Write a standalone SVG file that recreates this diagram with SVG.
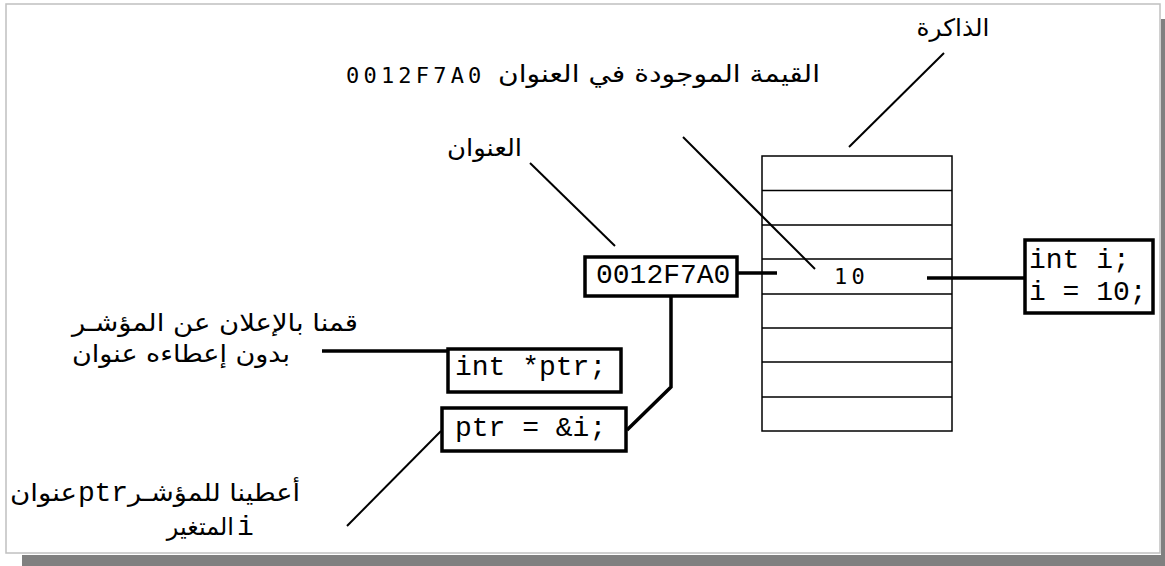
<svg xmlns="http://www.w3.org/2000/svg" width="1165" height="566" viewBox="0 0 1165 566">
<style>
.frame{fill:#ffffff;stroke:#c0c0c0;stroke-width:1.5}
.shadow{fill:#808080}
.mem{fill:none;stroke:#000;stroke-width:1.5}
.box{fill:#fff;stroke:#000;stroke-width:3.5}
.thick{fill:none;stroke:#000;stroke-width:3.5}
.thin{fill:none;stroke:#000;stroke-width:2}
.code{font-family:"Liberation Mono","Courier New",monospace;font-size:28px;fill:#000}
.num{font-family:"DejaVu Sans Mono","Liberation Mono",monospace;font-size:22px;fill:#000;letter-spacing:4.2px}
.ar{font-family:"DejaVu Sans","Noto Sans",sans-serif;font-size:24px;fill:#000;text-anchor:middle}
</style>
<rect class="shadow" x="1161" y="19" width="4" height="547"/>
<rect class="shadow" x="22" y="555" width="1143" height="11"/>
<rect class="frame" x="6" y="4" width="1154" height="549"/>

<g id="memory">
<rect class="mem" x="762" y="156" width="190" height="275"/>
<path class="mem" d="M762 190.5H952M762 225H952M762 259H952M762 294H952M762 328H952M762 362H952M762 397H952"/>
<text class="num" x="834" y="284">10</text>
</g>

<g id="label-memory"><text class="ar" x="953" y="36" textLength="73" lengthAdjust="spacingAndGlyphs">الذاكرة</text></g>
<g id="label-value">
<text class="ar" x="659" y="82" textLength="322" lengthAdjust="spacingAndGlyphs">القيمة الموجودة في العنوان</text>
<text class="num" x="346" y="83">0012F7A0</text>
</g>
<g id="label-address"><text class="ar" x="484.5" y="156" textLength="75" lengthAdjust="spacingAndGlyphs">العنوان</text></g>

<g id="addr-box">
<rect class="box" x="585" y="257" width="152" height="39"/>
<text class="code" x="596" y="283">0012F7A0</text>
</g>

<g id="int-i-box">
<rect class="box" x="1025" y="240" width="128" height="73"/>
<text class="code" x="1029" y="268">int i;</text>
<text class="code" x="1029" y="300">i = 10;</text>
</g>

<g id="decl-box">
<rect class="box" x="448" y="349" width="173" height="43"/>
<text class="code" x="455" y="375">int *ptr;</text>
</g>

<g id="assign-box">
<rect class="box" x="442" y="408" width="184" height="43"/>
<text class="code" x="455" y="436">ptr = &amp;i;</text>
</g>

<g id="label-decl">
<text class="ar" x="215" y="331" textLength="286" lengthAdjust="spacingAndGlyphs">قمنا بالإعلان عن المؤشـر</text>
<text class="ar" x="181" y="362" textLength="218" lengthAdjust="spacingAndGlyphs">بدون إعطاءه عنوان</text>
</g>

<g id="label-assign">
<text class="ar" x="214" y="501" textLength="172" lengthAdjust="spacingAndGlyphs">أعطينا للمؤشـر</text>
<text class="code" x="78" y="501" textLength="50" lengthAdjust="spacing">ptr</text>
<text class="ar" x="43.5" y="501" textLength="67" lengthAdjust="spacingAndGlyphs">عنوان</text>
<text class="ar" x="234" y="535" style="text-anchor:end">المتغير</text>
<text class="code" x="237" y="535">i</text>
</g>

<g id="connectors">
<line class="thin" x1="944" y1="53" x2="849" y2="147"/>
<line class="thin" x1="683" y1="137" x2="815" y2="269"/>
<line class="thin" x1="530" y1="163" x2="615" y2="246"/>
<line class="thick" x1="737" y1="273" x2="777" y2="273"/>
<line class="thick" x1="927" y1="278" x2="1025" y2="278"/>
<line class="thick" x1="322" y1="351" x2="448" y2="351"/>
<polyline class="thick" points="671,296 671,387 627,430"/>
<line class="thin" x1="441" y1="431" x2="347" y2="526"/>
</g>
</svg>
